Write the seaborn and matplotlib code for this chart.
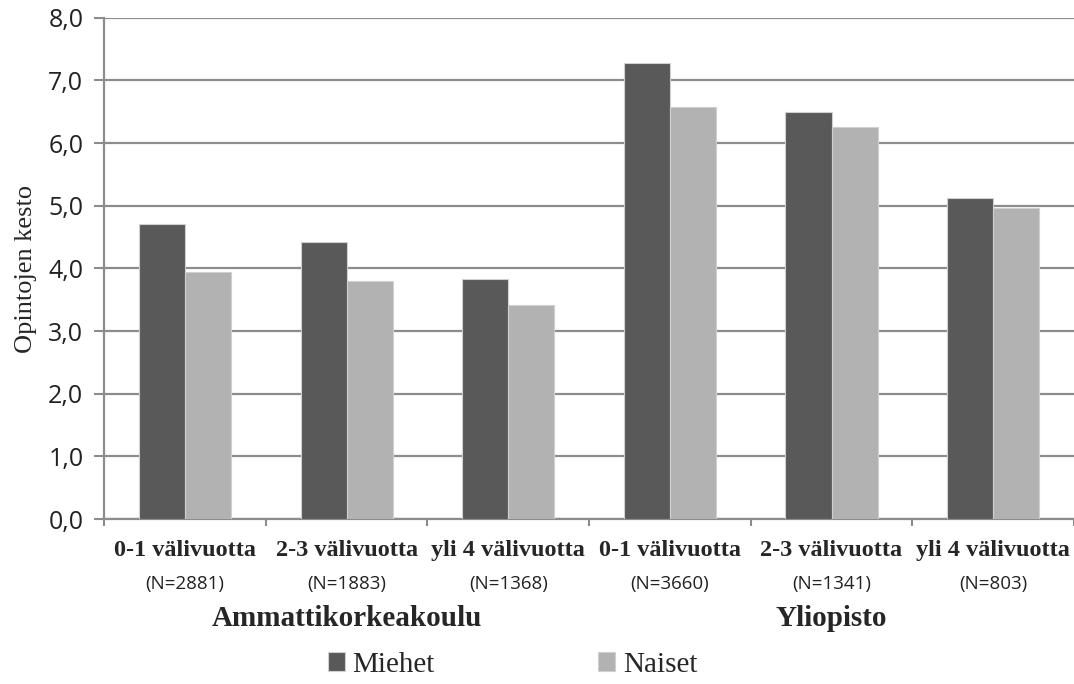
import numpy as np
import pandas as pd
import matplotlib.pyplot as plt
import seaborn as sns

# Tiedot
ryhmat = ["0-1 välivuotta", "2-3 välivuotta", "yli 4 välivuotta",
          "0-1 välivuotta ", "2-3 välivuotta ", "yli 4 välivuotta "]
n_arvot = ["(N=2881)", "(N=1883)", "(N=1368)", "(N=3660)", "(N=1341)", "(N=803)"]
koulut = ["Ammattikorkeakoulu", "Yliopisto"]
miehet = [4.71, 4.42, 3.83, 7.28, 6.50, 5.12]
naiset = [3.94, 3.80, 3.42, 6.57, 6.26, 4.96]
yticks = [0, 1, 2, 3, 4, 5, 6, 7, 8]

df = pd.DataFrame({
    "ryhma": ryhmat * 2,
    "kesto": miehet + naiset,
    "sukupuoli": ["Miehet"] * 6 + ["Naiset"] * 6,
})

sns.set_theme(style="white")
fig = plt.figure(figsize=(10.74, 6.84), dpi=100)
ax = fig.add_axes([0.097, 0.241, 0.903, 0.733])

sns.barplot(data=df, x="ryhma", y="kesto", hue="sukupuoli", order=ryhmat,
            palette=["#595959", "#b2b2b2"], width=0.57, ax=ax,
            edgecolor="#d0d0d0", linewidth=0.8, zorder=3)

ax.set_ylim(0, 8)
ax.set_xlim(-0.5, 5.5)
ax.set_yticks(yticks)
ax.set_yticklabels([f"{v:.1f}".replace(".", ",") for v in yticks],
                   fontsize=18, family="Open Sans", color="#222222")
ax.yaxis.grid(True, color="#8c8c8c", linewidth=1.6, zorder=0)
ax.set_axisbelow(True)
ax.tick_params(axis="y", left=True, length=7, width=1.5, color="#8c8c8c", pad=8)

# x-akselin jakoviivat
ax.set_xticks(np.arange(-0.5, 6.0, 1.0))
ax.set_xticklabels([])
ax.tick_params(axis="x", bottom=True, length=5, width=1.5, color="#8c8c8c")
ax.set_xlabel("")
ax.set_ylabel("Opintojen kesto", fontsize=19, family="Liberation Serif", labelpad=8)

for side in ["top", "right"]:
    ax.spines[side].set_visible(False)
for side in ["left", "bottom"]:
    ax.spines[side].set_color("#8c8c8c")
    ax.spines[side].set_linewidth(1.6)

trans = ax.get_xaxis_transform()
for i, (r, n) in enumerate(zip(ryhmat, n_arvot)):
    ax.text(i, -0.062, r.strip(), transform=trans, ha="center", va="center",
            fontsize=17.5, fontweight="bold", family="Liberation Serif")
    ax.text(i, -0.13, n, transform=trans, ha="center", va="center",
            fontsize=13.5, family="Open Sans", color="#222222")
for j, k in enumerate(koulut):
    ax.text(3 * j + 1, -0.198, k, transform=trans, ha="center", va="center",
            fontsize=21, fontweight="bold", family="Liberation Serif")

ax.legend_.remove()
handles, labels = ax.get_legend_handles_labels()
leg = fig.legend(handles, labels, loc="center", bbox_to_anchor=(0.477, 0.028), ncol=2,
                 frameon=False, fontsize=21,
                 handlelength=0.6, handleheight=0.6, handletextpad=0.25, columnspacing=5.6)
for t in leg.get_texts():
    t.set_fontfamily("Liberation Serif")

fig.savefig("out.png", dpi=100)
